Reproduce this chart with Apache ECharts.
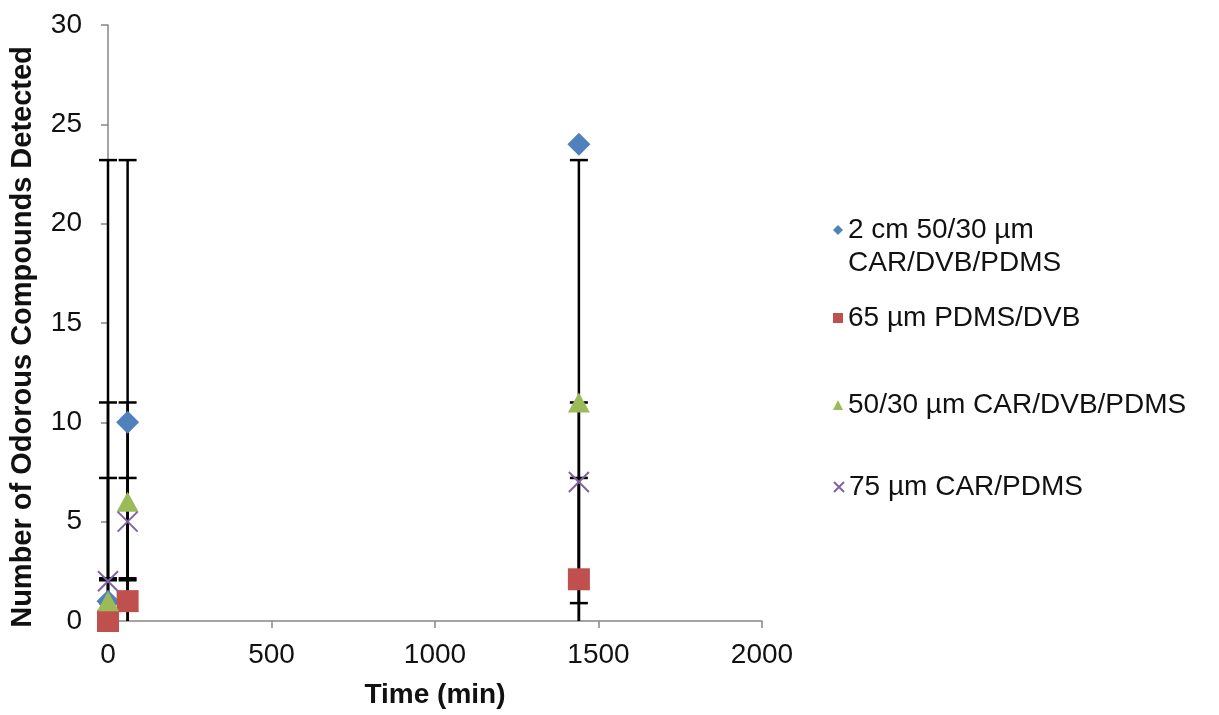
<!DOCTYPE html>
<html>
<head>
<meta charset="utf-8">
<script src="https://cdn.jsdelivr.net/npm/echarts@6/dist/echarts.min.js"></script>
<style>
html,body{margin:0;padding:0;background:#fff;}
#chart{width:1219px;height:715px;}
</style>
</head>
<body>
<div id="chart"></div>
<script>
// ---- data ----
const times = [0, 60, 1440];
const seriesNames = ['2 cm 50/30 µm CAR/DVB/PDMS', '65 µm PDMS/DVB', '50/30 µm CAR/DVB/PDMS', '75 µm CAR/PDMS'];
const blueValues = [1, 10, 24];
const redValues = [0, 1, 2.1];
const greenValues = [1, 6, 11];
const purpleValues = [2, 5, 7];
// error bar extents (same for every point of a series), read from the caps;
// lows below 0 are cut off at the axis, as in the reference
const errLow = [-0.5, -0.05, 0.9, 2.15];
const errHigh = [23.2, 2.05, 11, 7.2];
const xTicks = [0, 500, 1000, 1500, 2000];
const yTicks = [0, 5, 10, 15, 20, 25, 30];

const colors = ['#4F81BD', '#C0504D', '#9BBB59', '#8064A2'];
const symbols = ['diamond', 'rect', 'triangle', 'path://M0,0L10,10M10,0L0,10'];
const symbolSizes = [[23, 23], [22, 22], [22, 20], [20, 20]];
const allValues = [blueValues, redValues, greenValues, purpleValues];
const FONT = '"Liberation Sans", Arial, sans-serif';
const Y_MIN = yTicks[0];

const chart = echarts.init(document.getElementById('chart'));

const errorSeries = allValues.map((vals, i) => ({
  type: 'custom',
  name: 'err' + i,
  z: 1,
  silent: true,
  encode: { x: 0, y: [1, 2] },
  data: times.map(t => [t, errLow[i], errHigh[i]]),
  renderItem: function (params, api) {
    const x = api.value(0), lo = api.value(1), hi = api.value(2);
    const cutLow = lo < Y_MIN;
    const a = api.coord([x, cutLow ? Y_MIN : lo]), b = api.coord([x, hi]);
    const hw = 9;
    const st = { stroke: '#000', lineWidth: 2.5 };
    const children = [
      { type: 'line', shape: { x1: a[0], y1: a[1], x2: b[0], y2: b[1] }, style: st },
      { type: 'line', shape: { x1: b[0] - hw, y1: b[1], x2: b[0] + hw, y2: b[1] }, style: st }
    ];
    if (!cutLow) {
      children.push({ type: 'line', shape: { x1: a[0] - hw, y1: a[1], x2: a[0] + hw, y2: a[1] }, style: st });
    }
    return { type: 'group', children: children };
  }
}));

const scatterSeries = allValues.map((vals, i) => ({
  type: 'scatter',
  name: seriesNames[i],
  z: 3,
  symbol: symbols[i],
  symbolSize: symbolSizes[i],
  itemStyle: i === 3
    ? { color: colors[i], borderColor: colors[i], borderWidth: 2, opacity: 1 }
    : { color: colors[i], opacity: 1 },
  data: times.map((t, j) => [t, vals[j]])
}));

const legendTops = [180.5, 301.5, 388.5, 470.5];
const legends = seriesNames.map((n, i) => ({
  data: [n],
  left: 833,
  top: legendTops[i],
  padding: 0,
  itemWidth: 10,
  itemHeight: 10,
  itemGap: 0,
  orient: 'vertical',
  selectedMode: false,
  formatter: i === 0 ? () => '\n2 cm 50/30 µm\nCAR/DVB/PDMS' : undefined,
  textStyle: { fontFamily: FONT, fontSize: 28, color: '#111', lineHeight: 33 }
}));

chart.setOption({
  animation: false,
  backgroundColor: '#fff',
  grid: { left: 107, right: 457, top: 25, bottom: 94, containLabel: false },
  legend: legends,
  xAxis: {
    type: 'value',
    min: xTicks[0], max: xTicks[xTicks.length - 1], interval: 500,
    name: 'Time (min)',
    nameLocation: 'middle',
    nameGap: 60,
    nameTextStyle: { fontFamily: FONT, fontSize: 28, fontWeight: 'bold', color: '#111' },
    axisLine: { show: true, lineStyle: { color: '#868686', width: 1.5 } },
    axisTick: { show: true, inside: false, length: 7, lineStyle: { color: '#868686', width: 1.5 } },
    axisLabel: { fontFamily: FONT, fontSize: 28, color: '#111', margin: 20, formatter: v => String(v) },
    splitLine: { show: false }
  },
  yAxis: {
    type: 'value',
    min: yTicks[0], max: yTicks[yTicks.length - 1], interval: 5,
    name: 'Number of Odorous Compounds Detected',
    nameLocation: 'middle',
    nameGap: 71,
    nameTextStyle: { fontFamily: FONT, fontSize: 29, fontWeight: 'bold', color: '#111', padding: [0, 28, 0, 0] },
    axisLine: { show: true, lineStyle: { color: '#868686', width: 1.5 } },
    axisTick: { show: true, inside: false, length: 7, lineStyle: { color: '#868686', width: 1.5 } },
    axisLabel: { fontFamily: FONT, fontSize: 28, color: '#111', margin: 26, formatter: v => String(v) },
    splitLine: { show: false }
  },
  series: errorSeries.concat(scatterSeries)
});
</script>
</body>
</html>
